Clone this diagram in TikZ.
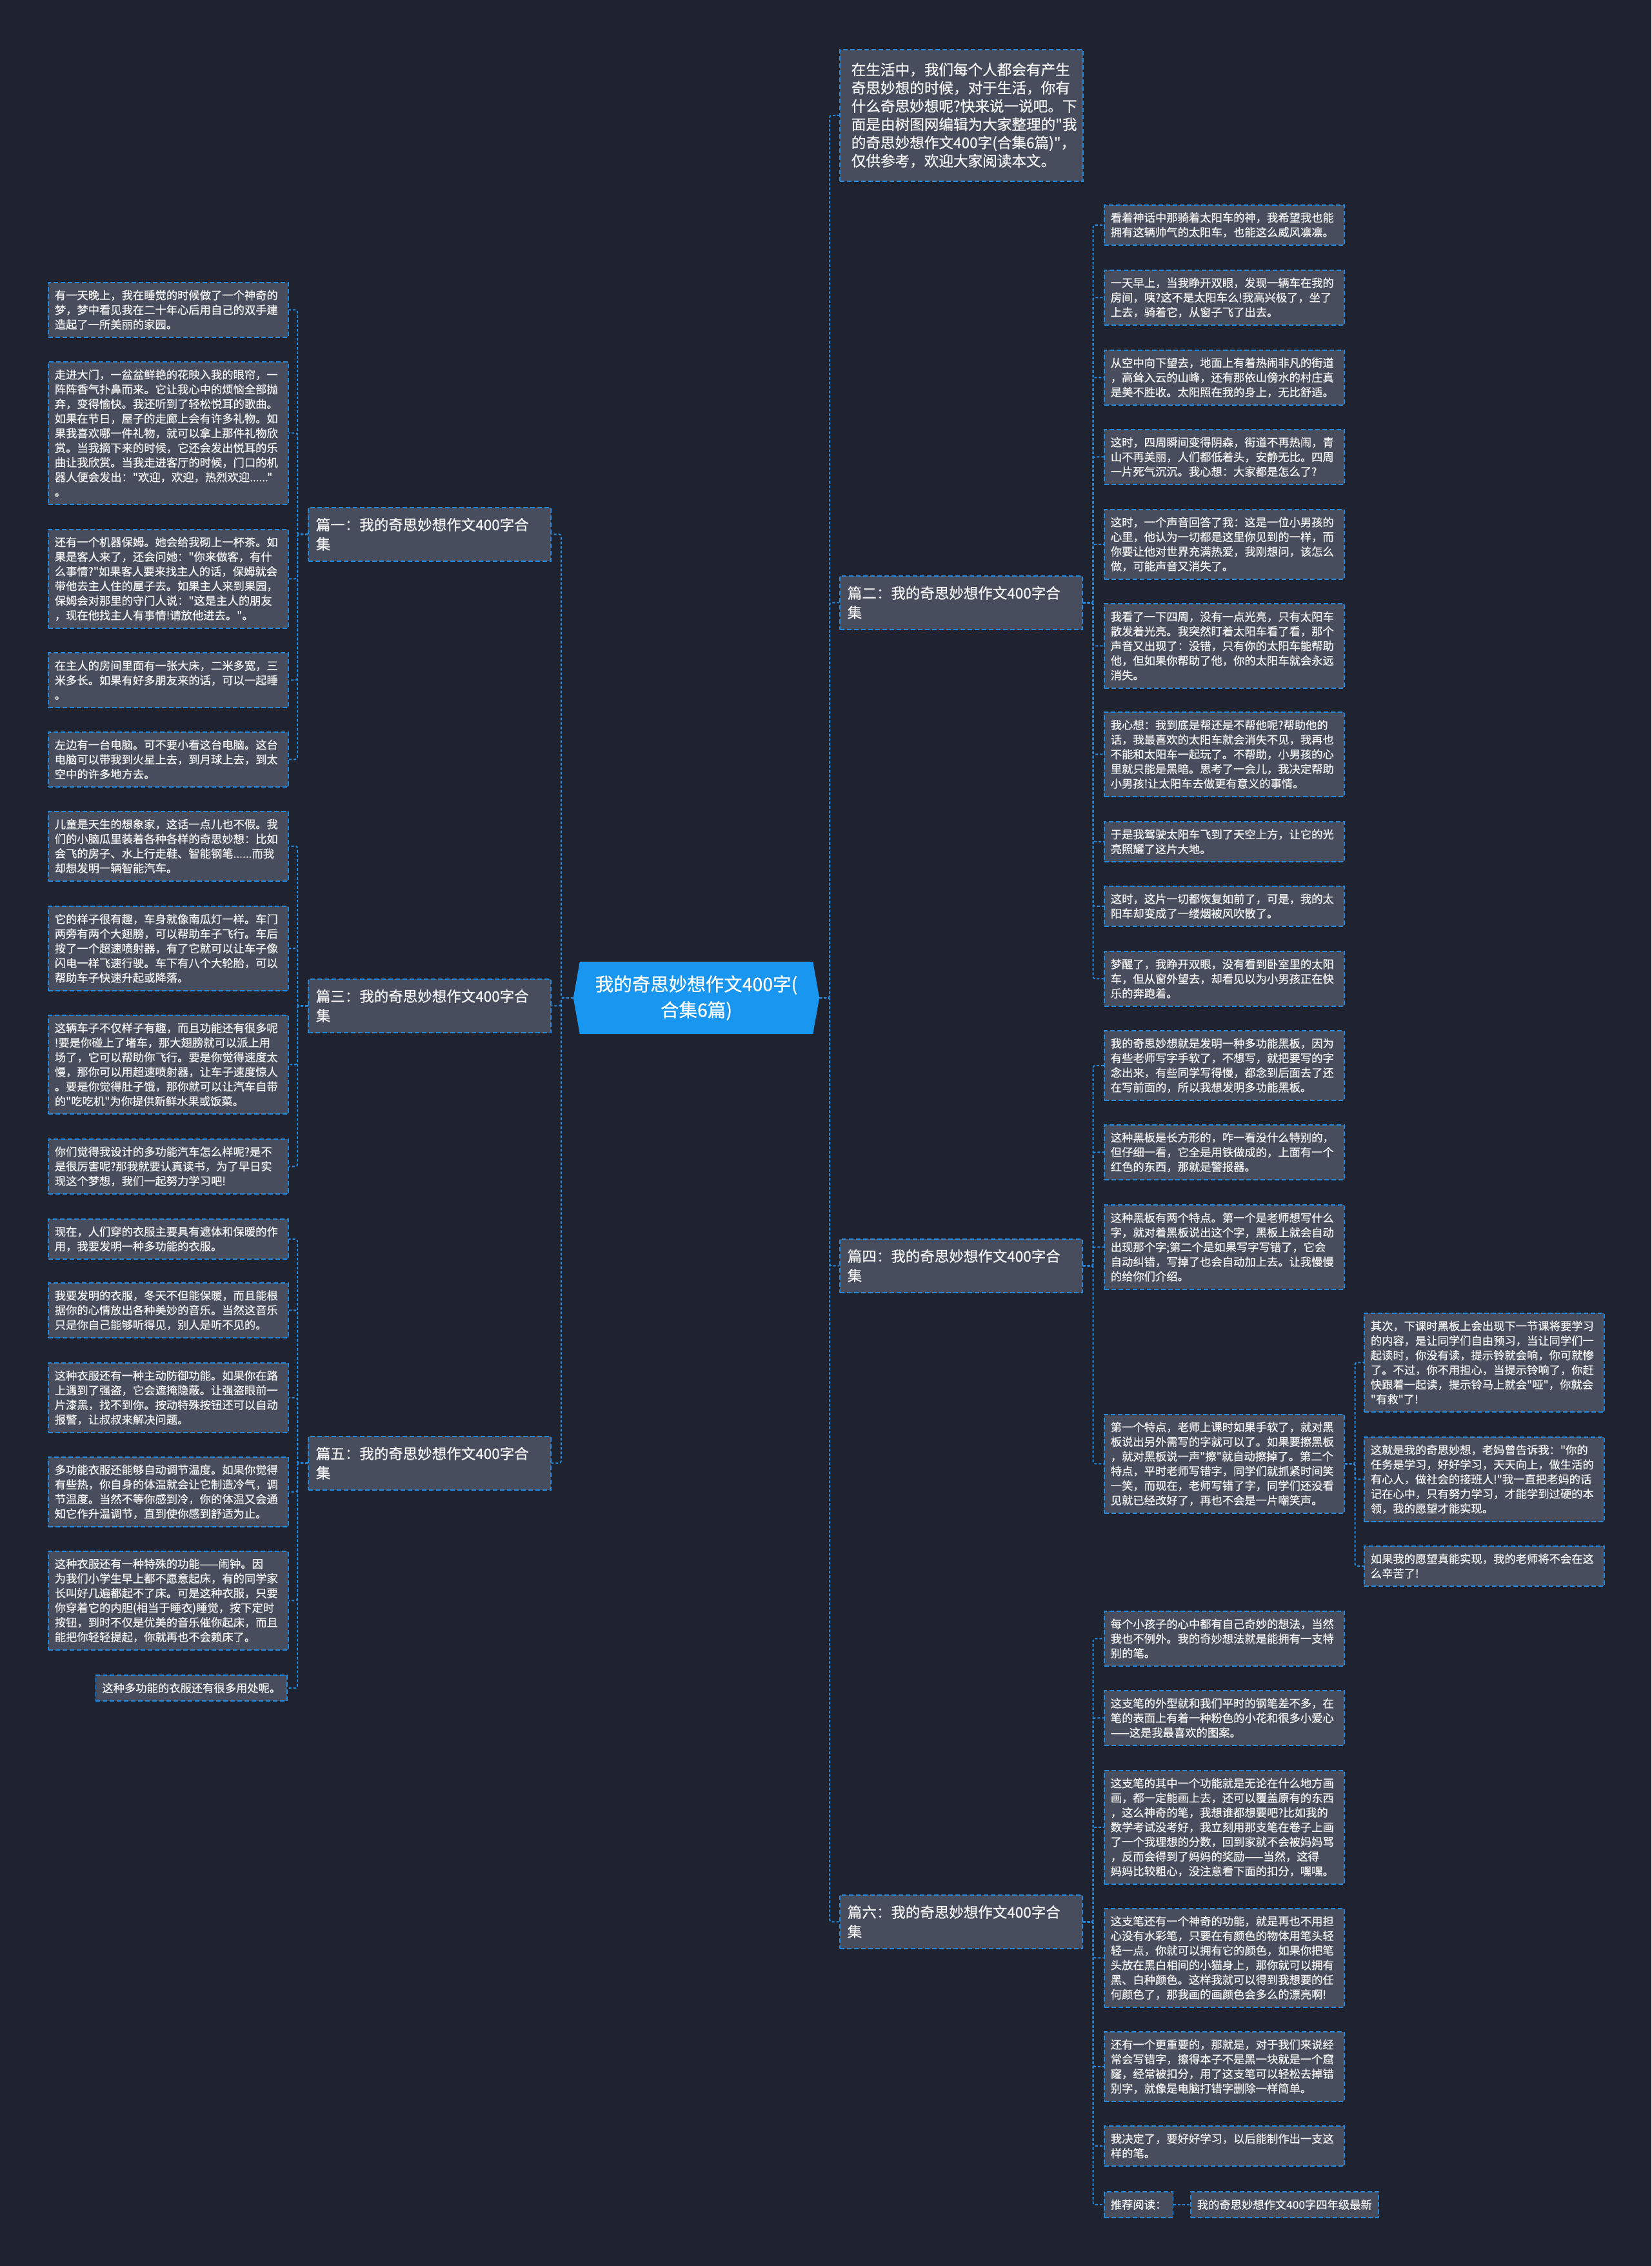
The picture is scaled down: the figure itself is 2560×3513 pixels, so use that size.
\documentclass[tikz,border=0pt]{standalone}
\usepackage{fontspec}
\setmainfont{Noto Sans CJK SC}[Ligatures=TeXOff,FakeBold=0.6]
\usetikzlibrary{backgrounds}
\definecolor{bgc}{RGB}{31,35,48}
\definecolor{boxc}{RGB}{71,77,93}
\definecolor{linec}{RGB}{38,138,220}
\definecolor{cbl}{RGB}{24,150,240}
\definecolor{txtc}{RGB}{242,242,242}
\tikzset{
  boxbase/.style={draw=linec, fill=boxc, dash pattern=on 7pt off 4pt, line width=1.6pt, text=txtc, inner ysep=0pt, anchor=north west},
  leaf/.style={boxbase, font=\fontsize{17.3}{22.7}\selectfont, align=left, text width=352pt, inner xsep=10pt},
  leafs/.style={boxbase, font=\fontsize{17.3}{22.7}\selectfont, inner xsep=10pt, minimum height=40pt},
  sect/.style={boxbase, font=\fontsize{22.5}{30}\selectfont, align=left, text width=352pt, inner xsep=12pt, minimum height=83pt},
  intro/.style={boxbase, font=\fontsize{22.6}{28.3}\selectfont, align=left, text width=341pt, inner xsep=18pt, minimum height=204pt},
  centre/.style={text=white, font=\fontsize{28.5}{40}\selectfont, align=center, minimum width=381pt, minimum height=112pt, inner sep=0pt},
  conn/.style={draw=linec, line width=2pt, dash pattern=on 4pt off 3pt, rounded corners=3pt}
}
\begin{document}
\begin{tikzpicture}[x=1pt,y=-1pt]
\begin{scope}[on background layer]
\fill[bgc] (0,0) rectangle (2560,3513);
\end{scope}
\useasboundingbox (0,0) rectangle (2560,3513);

% centre
\node[centre] (C) at (1079.5,1547) {我的奇思妙想作文400字(\\合集6篇)};
\begin{scope}[on background layer]
\fill[cbl] ([xshift=10pt]C.north west) -- ([xshift=-10pt]C.north east) -- (C.east) -- ([xshift=-10pt]C.south east) -- ([xshift=10pt]C.south west) -- (C.west) -- cycle;
\end{scope}

% intro
\node[intro] (I) at (1301,76) {在生活中，我们每个人都会有产生\\奇思妙想的时候，对于生活，你有\\什么奇思妙想呢?快来说一说吧。下\\面是由树图网编辑为大家整理的"我\\的奇思妙想作文400字(合集6篇)"，\\仅供参考，欢迎大家阅读本文。};

% sections
\node[sect] (S1) at (477,786) {篇一：我的奇思妙想作文400字合\\集};
\node[sect] (S3) at (477,1517) {篇三：我的奇思妙想作文400字合\\集};
\node[sect] (S5) at (477,2226) {篇五：我的奇思妙想作文400字合\\集};
\node[sect] (S2) at (1301,892) {篇二：我的奇思妙想作文400字合\\集};
\node[sect] (S4) at (1301,1920) {篇四：我的奇思妙想作文400字合\\集};
\node[sect] (S6) at (1301,2937) {篇六：我的奇思妙想作文400字合\\集};

% left leaves
\node[leaf, minimum height=85pt] (L1) at (74,437) {有一天晚上，我在睡觉的时候做了一个神奇的\\梦，梦中看见我在二十年心后用自己的双手建\\造起了一所美丽的家园。};
\node[leaf, minimum height=221pt] (L2) at (74,560) {走进大门，一盆盆鲜艳的花映入我的眼帘，一\\阵阵香气扑鼻而来。它让我心中的烦恼全部抛\\弃，变得愉快。我还听到了轻松悦耳的歌曲。\\如果在节日，屋子的走廊上会有许多礼物。如\\果我喜欢哪一件礼物，就可以拿上那件礼物欣\\赏。当我摘下来的时候，它还会发出悦耳的乐\\曲让我欣赏。当我走进客厅的时候，门口的机\\器人便会发出："欢迎，欢迎，热烈欢迎......"\\。};
\node[leaf, minimum height=153pt] (L3) at (74,820) {还有一个机器保姆。她会给我砌上一杯茶。如\\果是客人来了，还会问她："你来做客，有什\\么事情?"如果客人要来找主人的话，保姆就会\\带他去主人住的屋子去。如果主人来到果园，\\保姆会对那里的守门人说："这是主人的朋友\\，现在他找主人有事情!请放他进去。"。};
\node[leaf, minimum height=85pt] (L4) at (74,1011) {在主人的房间里面有一张大床，二米多宽，三\\米多长。如果有好多朋友来的话，可以一起睡\\。};
\node[leaf, minimum height=85pt] (L5) at (74,1134) {左边有一台电脑。可不要小看这台电脑。这台\\电脑可以带我到火星上去，到月球上去，到太\\空中的许多地方去。};
\node[leaf, minimum height=108pt] (L6) at (74,1257) {儿童是天生的想象家，这话一点儿也不假。我\\们的小脑瓜里装着各种各样的奇思妙想：比如\\会飞的房子、水上行走鞋、智能钢笔......而我\\却想发明一辆智能汽车。};
\node[leaf, minimum height=131pt] (L7) at (74,1404) {它的样子很有趣，车身就像南瓜灯一样。车门\\两旁有两个大翅膀，可以帮助车子飞行。车后\\按了一个超速喷射器，有了它就可以让车子像\\闪电一样飞速行驶。车下有八个大轮胎，可以\\帮助车子快速升起或降落。};
\node[leaf, minimum height=153pt] (L8) at (74,1573) {这辆车子不仅样子有趣，而且功能还有很多呢\\!要是你碰上了堵车，那大翅膀就可以派上用\\场了，它可以帮助你飞行。要是你觉得速度太\\慢，那你可以用超速喷射器，让车子速度惊人\\。要是你觉得肚子饿，那你就可以让汽车自带\\的"吃吃机"为你提供新鲜水果或饭菜。};
\node[leaf, minimum height=85pt] (L9) at (74,1765) {你们觉得我设计的多功能汽车怎么样呢?是不\\是很厉害呢?那我就要认真读书，为了早日实\\现这个梦想，我们一起努力学习吧!};
\node[leaf, minimum height=62pt] (L10) at (74,1889) {现在，人们穿的衣服主要具有遮体和保暖的作\\用，我要发明一种多功能的衣服。};
\node[leaf, minimum height=85pt] (L11) at (74,1988) {我要发明的衣服，冬天不但能保暖，而且能根\\据你的心情放出各种美妙的音乐。当然这音乐\\只是你自己能够听得见，别人是听不见的。};
\node[leaf, minimum height=108pt] (L12) at (74,2112) {这种衣服还有一种主动防御功能。如果你在路\\上遇到了强盗，它会遮掩隐蔽。让强盗眼前一\\片漆黑，找不到你。按动特殊按钮还可以自动\\报警，让叔叔来解决问题。};
\node[leaf, minimum height=108pt] (L13) at (74,2258) {多功能衣服还能够自动调节温度。如果你觉得\\有些热，你自身的体温就会让它制造冷气，调\\节温度。当然不等你感到冷，你的体温又会通\\知它作升温调节，直到使你感到舒适为止。};
\node[leaf, minimum height=153pt] (L14) at (74,2404) {这种衣服还有一种特殊的功能——闹钟。因\\为我们小学生早上都不愿意起床，有的同学家\\长叫好几遍都起不了床。可是这种衣服，只要\\你穿着它的内胆(相当于睡衣)睡觉，按下定时\\按钮，到时不仅是优美的音乐催你起床，而且\\能把你轻轻提起，你就再也不会赖床了。};
\node[leafs, anchor=north east] (L15) at (446,2596) {这种多功能的衣服还有很多用处呢。};

% right leaves
\node[leaf, minimum height=62pt] (R1) at (1711,317) {看着神话中那骑着太阳车的神，我希望我也能\\拥有这辆帅气的太阳车，也能这么威风凛凛。};
\node[leaf, minimum height=85pt] (R2) at (1711,418) {一天早上，当我睁开双眼，发现一辆车在我的\\房间，咦?这不是太阳车么!我高兴极了，坐了\\上去，骑着它，从窗子飞了出去。};
\node[leaf, minimum height=85pt] (R3) at (1711,542) {从空中向下望去，地面上有着热闹非凡的街道\\，高耸入云的山峰，还有那依山傍水的村庄真\\是美不胜收。太阳照在我的身上，无比舒适。};
\node[leaf, minimum height=85pt] (R4) at (1711,665) {这时，四周瞬间变得阴森，街道不再热闹，青\\山不再美丽，人们都低着头，安静无比。四周\\一片死气沉沉。我心想：大家都是怎么了?};
\node[leaf, minimum height=108pt] (R5) at (1711,789) {这时，一个声音回答了我：这是一位小男孩的\\心里，他认为一切都是这里你见到的一样，而\\你要让他对世界充满热爱，我刚想问，该怎么\\做，可能声音又消失了。};
\node[leaf, minimum height=131pt] (R6) at (1711,935) {我看了一下四周，没有一点光亮，只有太阳车\\散发着光亮。我突然盯着太阳车看了看，那个\\声音又出现了：没错，只有你的太阳车能帮助\\他，但如果你帮助了他，你的太阳车就会永远\\消失。};
\node[leaf, minimum height=131pt] (R7) at (1711,1103) {我心想：我到底是帮还是不帮他呢?帮助他的\\话，我最喜欢的太阳车就会消失不见，我再也\\不能和太阳车一起玩了。不帮助，小男孩的心\\里就只能是黑暗。思考了一会儿，我决定帮助\\小男孩!让太阳车去做更有意义的事情。};
\node[leaf, minimum height=62pt] (R8) at (1711,1273) {于是我驾驶太阳车飞到了天空上方，让它的光\\亮照耀了这片大地。};
\node[leaf, minimum height=62pt] (R9) at (1711,1373) {这时，这片一切都恢复如前了，可是，我的太\\阳车却变成了一缕烟被风吹散了。};
\node[leaf, minimum height=85pt] (R10) at (1711,1474) {梦醒了，我睁开双眼，没有看到卧室里的太阳\\车，但从窗外望去，却看见以为小男孩正在快\\乐的奔跑着。};
\node[leaf, minimum height=108pt] (R11) at (1711,1597) {我的奇思妙想就是发明一种多功能黑板，因为\\有些老师写字手软了，不想写，就把要写的字\\念出来，有些同学写得慢，都念到后面去了还\\在写前面的，所以我想发明多功能黑板。};
\node[leaf, minimum height=85pt] (R12) at (1711,1743) {这种黑板是长方形的，咋一看没什么特别的，\\但仔细一看，它全是用铁做成的，上面有一个\\红色的东西，那就是警报器。};
\node[leaf, minimum height=131pt] (R13) at (1711,1867) {这种黑板有两个特点。第一个是老师想写什么\\字，就对着黑板说出这个字，黑板上就会自动\\出现那个字;第二个是如果写字写错了，它会\\自动纠错，写掉了也会自动加上去。让我慢慢\\的给你们介绍。};
\node[leaf, minimum height=153pt] (R14) at (1711,2192) {第一个特点，老师上课时如果手软了，就对黑\\板说出另外需写的字就可以了。如果要擦黑板\\，就对黑板说一声"擦"就自动擦掉了。第二个\\特点，平时老师写错字，同学们就抓紧时间笑\\一笑，而现在，老师写错了字，同学们还没看\\见就已经改好了，再也不会是一片嘲笑声。};
\node[leaf, minimum height=153pt] (F1) at (2114,2035) {其次，下课时黑板上会出现下一节课将要学习\\的内容，是让同学们自由预习，当让同学们一\\起读时，你没有读，提示铃就会响，你可就惨\\了。不过，你不用担心，当提示铃响了，你赶\\快跟着一起读，提示铃马上就会"哑"，你就会\\"有救"了!};
\node[leaf, minimum height=131pt] (F2) at (2114,2227) {这就是我的奇思妙想，老妈曾告诉我："你的\\任务是学习，好好学习，天天向上，做生活的\\有心人，做社会的接班人!"我一直把老妈的话\\记在心中，只有努力学习，才能学到过硬的本\\领，我的愿望才能实现。};
\node[leaf, minimum height=62pt] (F3) at (2114,2396) {如果我的愿望真能实现，我的老师将不会在这\\么辛苦了!};
\node[leaf, minimum height=85pt] (R15) at (1711,2497) {每个小孩子的心中都有自己奇妙的想法，当然\\我也不例外。我的奇妙想法就是能拥有一支特\\别的笔。};
\node[leaf, minimum height=85pt] (R16) at (1711,2620) {这支笔的外型就和我们平时的钢笔差不多，在\\笔的表面上有着一种粉色的小花和很多小爱心\\——这是我最喜欢的图案。};
\node[leaf, minimum height=176pt] (R17) at (1711,2744) {这支笔的其中一个功能就是无论在什么地方画\\画，都一定能画上去，还可以覆盖原有的东西\\，这么神奇的笔，我想谁都想要吧?比如我的\\数学考试没考好，我立刻用那支笔在卷子上画\\了一个我理想的分数，回到家就不会被妈妈骂\\，反而会得到了妈妈的奖励——当然，这得\\妈妈比较粗心，没注意看下面的扣分，嘿嘿。};
\node[leaf, minimum height=153pt] (R18) at (1711,2958) {这支笔还有一个神奇的功能，就是再也不用担\\心没有水彩笔，只要在有颜色的物体用笔头轻\\轻一点，你就可以拥有它的颜色，如果你把笔\\头放在黑白相间的小猫身上，那你就可以拥有\\黑、白种颜色。这样我就可以得到我想要的任\\何颜色了，那我画的画颜色会多么的漂亮啊!};
\node[leaf, minimum height=108pt] (R19) at (1711,3149) {还有一个更重要的，那就是，对于我们来说经\\常会写错字，擦得本子不是黑一块就是一个窟\\窿，经常被扣分，用了这支笔可以轻松去掉错\\别字，就像是电脑打错字删除一样简单。};
\node[leaf, minimum height=62pt] (R20) at (1711,3295) {我决定了，要好好学习，以后能制作出一支这\\样的笔。};
\node[leafs] (R21) at (1711,3397) {推荐阅读：};
\node[leafs] (R22) at (1845,3397) {我的奇思妙想作文400字四年级最新};

% connectors
\foreach \s in {S1,S3,S5} \draw[conn] (C.west) -- ++(-19,0) |- (\s.east);
\foreach \s in {I,S2,S4,S6} \draw[conn] (C.east) -- ++(16,0) |- (\s.west);
\foreach \l in {L1,L2,L3,L4,L5} \draw[conn] (S1.west) -- ++(-16,0) |- (\l.east);
\foreach \l in {L6,L7,L8,L9} \draw[conn] (S3.west) -- ++(-16,0) |- (\l.east);
\foreach \l in {L10,L11,L12,L13,L14,L15} \draw[conn] (S5.west) -- ++(-16,0) |- (\l.east);
\foreach \r in {R1,R2,R3,R4,R5,R6,R7,R8,R9,R10} \draw[conn] (S2.east) -- ++(16,0) |- (\r.west);
\foreach \r in {R11,R12,R13,R14} \draw[conn] (S4.east) -- ++(16,0) |- (\r.west);
\foreach \r in {R15,R16,R17,R18,R19,R20,R21} \draw[conn] (S6.east) -- ++(16,0) |- (\r.west);
\foreach \f in {F1,F2,F3} \draw[conn] (R14.east) -- ++(16,0) |- (\f.west);
\draw[conn] (R21.east) -- (R22.west);
\end{tikzpicture}
\end{document}
